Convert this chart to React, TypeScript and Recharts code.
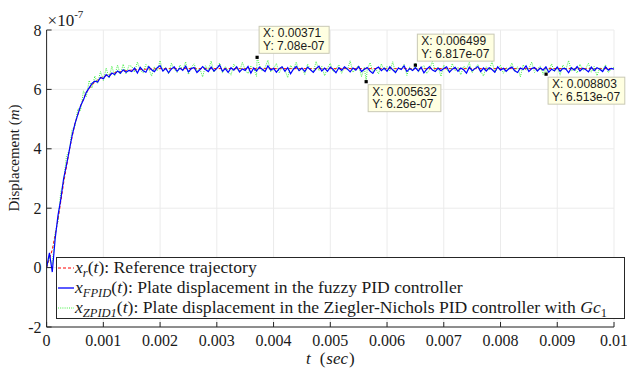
import React from 'react';
import { LineChart, Line, XAxis, YAxis, CartesianGrid, ReferenceDot } from 'recharts';

// sampling interval of the simulated signals (seconds)
const STEP = 0.00005;

// fuzzy PID response (x 1e-7 m), one value per STEP from t = 0 to 0.01
const blueValues = [
  0.0, 0.5, -0.15, 0.95, 1.75, 2.3, 3.0, 3.45, 3.95, 4.45,
  4.85, 5.15, 5.45, 5.65, 5.9, 6.05, 6.2, 6.28, 6.25, 6.4,
  6.36, 6.5, 6.42, 6.55, 6.5, 6.62, 6.55, 6.66, 6.58, 6.64,
  6.60, 6.72, 6.55, 6.74, 6.63, 6.58, 6.77, 6.66, 6.60, 6.73,
  6.80, 6.62, 6.71, 6.56, 6.69, 6.76, 6.61, 6.72, 6.64, 6.78,
  6.59, 6.70, 6.74, 6.57, 6.66, 6.77, 6.67, 6.60, 6.75, 6.62,
  6.71, 6.82, 6.61, 6.70, 6.57, 6.73, 6.65, 6.76, 6.59, 6.69,
  6.64, 6.77, 6.55, 6.72, 6.62, 6.75, 6.68, 6.60, 6.79, 6.65,
  6.71, 6.58, 6.70, 6.76, 6.61, 6.73, 6.53, 6.68, 6.77, 6.63,
  6.72, 6.60, 6.75, 6.66, 6.57, 6.70, 6.78, 6.62, 6.72, 6.61,
  6.75, 6.67, 6.56, 6.73, 6.64, 6.76, 6.69, 6.59, 6.72, 6.65,
  6.77, 6.60, 6.68, 6.74, 6.62, 6.54, 6.70, 6.75, 6.63, 6.72,
  6.61, 6.76, 6.66, 6.57, 6.72, 6.67, 6.79, 6.60, 6.70, 6.64,
  6.73, 6.62, 6.75, 6.56, 6.68, 6.77, 6.65, 6.60, 6.72, 6.63,
  6.70, 6.76, 6.58, 6.68, 6.74, 6.61, 6.72, 6.66, 6.55, 6.75,
  6.63, 6.70, 6.77, 6.60, 6.72, 6.62, 6.73, 6.67, 6.58, 6.76,
  6.65, 6.71, 6.61, 6.70, 6.75, 6.63, 6.57, 6.72, 6.67, 6.79,
  6.60, 6.70, 6.74, 6.62, 6.72, 6.65, 6.76, 6.58, 6.68, 6.63,
  6.75, 6.61, 6.71, 6.69, 6.56, 6.73, 6.65, 6.77, 6.62, 6.71,
  6.67, 6.59, 6.75, 6.63, 6.73, 6.68, 6.60, 6.76, 6.65, 6.71,
  6.68,
];

// Ziegler-Nichols PID response (x 1e-7 m), one value per STEP
const greenValues = [
  0.0, 0.35, 0.1, 1.15, 1.55, 2.55, 2.9, 3.75, 3.95, 4.65,
  4.75, 5.35, 5.3, 5.95, 5.75, 6.3, 6.05, 6.45, 6.2, 6.6,
  6.3, 6.72, 6.38, 6.78, 6.45, 6.82, 6.5, 6.85, 6.52, 6.8,
  6.78, 6.58, 6.92, 6.66, 6.55, 6.84, 6.70, 6.45, 6.76, 6.62,
  6.97, 6.60, 6.74, 6.52, 6.88, 6.68, 6.57, 6.82, 6.64, 6.93,
  6.50, 6.75, 6.86, 6.61, 6.70, 6.42, 6.80, 6.66, 6.95, 6.58,
  6.72, 6.89, 6.55, 6.77, 6.63, 6.48, 6.85, 6.69, 6.60, 6.91,
  6.66, 6.53, 6.79, 6.71, 6.44, 6.83, 6.62, 6.74, 6.98, 6.59,
  6.70, 6.87, 6.56, 6.76, 6.65, 6.40, 6.81, 6.68, 6.92, 6.61,
  6.73, 6.50, 6.85, 6.67, 6.58, 6.94, 6.63, 6.77, 6.46, 6.72,
  6.88, 6.60, 6.69, 6.83, 6.54, 6.75, 6.65, 6.96, 6.57, 6.71,
  6.80, 6.43, 6.74, 6.66, 6.90, 6.59, 6.70, 6.52, 6.86, 6.64,
  6.77, 6.61, 6.93, 6.55, 6.73, 6.68, 6.84, 6.47, 6.76, 6.62,
  6.89, 6.58, 6.71, 6.80, 6.53, 6.67, 6.95, 6.60, 6.75, 6.44,
  6.82, 6.66, 6.57, 6.87, 6.63, 6.74, 6.49, 6.79, 6.69, 6.91,
  6.56, 6.72, 6.84, 6.61, 6.45, 6.77, 6.65, 6.94, 6.58, 6.70,
  6.81, 6.54, 6.73, 6.67, 6.89, 6.60, 6.76, 6.42, 6.83, 6.64,
  6.71, 6.92, 6.57, 6.68, 6.79, 6.51, 6.74, 6.63, 6.86, 6.59,
  6.75, 6.48, 6.82, 6.66, 6.97, 6.61, 6.72, 6.55, 6.85, 6.64,
  6.70, 6.88, 6.58, 6.77, 6.46, 6.73, 6.65, 6.83, 6.56, 6.69,
  6.74,
];

// reference trajectory (x 1e-7 m)
const refTimes = [0, 0.0001, 0.0002, 0.0003, 0.0004, 0.0005, 0.0006, 0.0007, 0.0008, 0.0009, 0.001, 0.0012, 0.0014, 0.0016, 0.002, 0.003, 0.004, 0.005, 0.006, 0.007, 0.008, 0.009, 0.01];
const refValues = [0, 0.6, 1.6, 2.85, 3.95, 4.85, 5.45, 5.9, 6.15, 6.32, 6.43, 6.56, 6.63, 6.67, 6.7, 6.7, 6.7, 6.7, 6.7, 6.7, 6.7, 6.7, 6.7];

// data tips
const tipTimes = [0.00371, 0.005632, 0.006499, 0.008803];
const tipValues = [7.08, 6.26, 6.817, 6.513];
const tipXLabels = ['0.00371', '0.005632', '0.006499', '0.008803'];
const tipYLabels = ['7.08e-07', '6.26e-07', '6.817e-07', '6.513e-07'];
const tipAbove = [true, false, true, false];

// axes
const xTicks = [0, 0.001, 0.002, 0.003, 0.004, 0.005, 0.006, 0.007, 0.008, 0.009, 0.01];
const xTickLabels = ['0', '0.001', '0.002', '0.003', '0.004', '0.005', '0.006', '0.007', '0.008', '0.009', '0.01'];
const yTicks = [-2, 0, 2, 4, 6, 8];
const yTickLabels = ['-2', '0', '2', '4', '6', '8'];

const SERIF = "'Liberation Serif', 'Times New Roman', serif";
const SANS = "'Liberation Sans', Arial, sans-serif";
const AXIS = '#262626';
const TEXT = '#1a1a1a';
const X_MARGIN = 5;
const Y_MARGIN = 5;
const RED = '#ff0000';
const BLUE = '#0000ff';
const GREEN = '#3ded3d';

const blueData = blueValues.map((v, i) => ({ t: +(i * STEP).toFixed(6), v }));
const greenData = [
  ...greenValues.map((v, i) => ({ t: +(i * STEP).toFixed(6), v })),
  ...tipTimes.map((t, i) => ({ t, v: tipValues[i] })),
].sort((a, b) => a.t - b.t);
const refData = refTimes.map((t, i) => ({ t, v: refValues[i] }));

const charW: Record<string, number> = { '.': 0.278, ':': 0.278, ' ': 0.278, X: 0.667, Y: 0.667, e: 0.556, '-': 0.333 };
const textW = (s: string, size: number) => s.split('').reduce((a, c) => a + (charW[c] ?? 0.556), 0) * size;

const XTick = (props: any) => {
  const { x, y, payload } = props;
  const axisY = y - X_MARGIN;
  const label = xTickLabels[xTicks.indexOf(payload.value)] ?? String(payload.value);
  return (
    <g>
      <line x1={x} x2={x} y1={axisY} y2={axisY - 5} stroke={AXIS} strokeWidth={1} />
      <text x={x} y={axisY + 18.5} textAnchor="middle" fontFamily={SERIF} fontSize={16} fill={TEXT}>{label}</text>
    </g>
  );
};

const YTick = (props: any) => {
  const { x, y, payload } = props;
  const axisX = x + Y_MARGIN;
  const label = yTickLabels[yTicks.indexOf(payload.value)] ?? String(payload.value);
  return (
    <g>
      <line x1={axisX} x2={axisX + 5} y1={y} y2={y} stroke={AXIS} strokeWidth={1} />
      <text x={x} y={y + 5.5} textAnchor="end" fontFamily={SERIF} fontSize={16} fill={TEXT}>{label}</text>
    </g>
  );
};

const makeTip = (i: number) => (props: any) => {
  const { cx, cy } = props;
  const lines = [`X: ${tipXLabels[i]}`, `Y: ${tipYLabels[i]}`];
  const w = Math.max(...lines.map((s) => textW(s, 12))) + 8;
  const h = 27;
  const bx = cx + 2;
  const by = tipAbove[i] ? cy - 31 : cy + 3;
  return (
    <g>
      <rect x={bx} y={by} width={w} height={h} fill="#ffffe1" stroke="#c9c9b5" strokeWidth={1} />
      <text x={bx + 4} y={by + 11} fontFamily={SANS} fontSize={12} fill={TEXT}>{lines[0]}</text>
      <text x={bx + 4} y={by + 23.5} fontFamily={SANS} fontSize={12} fill={TEXT}>{lines[1]}</text>
      <rect x={cx - 1.6} y={cy - 1.6} width={3.2} height={3.2} fill="#000" />
    </g>
  );
};

const legendRows = [
  { sub: 'r', text: ': Reference trajectory', color: RED, dash: '3 2', width: 1, tail: false },
  { sub: 'FPID', text: ': Plate displacement in the fuzzy PID controller', color: BLUE, dash: undefined, width: 1.3, tail: false },
  { sub: 'ZPID1', text: ': Plate displacement in the Ziegler-Nichols PID controller with ', color: GREEN, dash: '1 1.2', width: 1, tail: true },
];

const LegendBox = () => (
  <div
    style={{
      position: 'absolute',
      left: 56,
      top: 257,
      boxSizing: 'border-box',
      width: 569,
      height: 62,
      border: `1px solid ${AXIS}`,
      background: '#fff',
      fontFamily: SERIF,
      fontSize: 17.6,
      color: TEXT,
    }}
  >
    {legendRows.map((r, i) => (
      <div key={i} style={{ height: 20, display: 'flex', alignItems: 'center', whiteSpace: 'nowrap' }}>
        <svg width={18} height={20} style={{ flex: 'none' }}>
          <line x1={1} x2={17} y1={10} y2={10} stroke={r.color} strokeWidth={r.width} strokeDasharray={r.dash} />
        </svg>
        <span style={{ lineHeight: '20px' }}>
          <i>x</i>
          <i style={{ fontSize: 12.5, position: 'relative', top: 4 }}>{r.sub}</i>(<i>t</i>){r.text}
          {r.tail ? (
            <>
              <i>Gc</i>
              <span style={{ fontSize: 12.5, position: 'relative', top: 4 }}>1</span>
            </>
          ) : null}
        </span>
      </div>
    ))}
  </div>
);

const YLabel = (props: any) => {
  const vb = props.viewBox || { x: 0, y: 0, width: 0, height: 0 };
  const tx = vb.x + 12;
  const ty = vb.y + 128;
  return (
    <g>
      <text x={tx} y={ty} transform={`rotate(-90 ${tx} ${ty})`} textAnchor="middle" fontFamily={SERIF} fontSize={15} fill={TEXT}>
        Displacement (<tspan fontStyle="italic">m</tspan>)
      </text>
      <text x={vb.x + vb.width + 1} y={vb.y - 4} fontFamily={SERIF} fontSize={17} fill={TEXT}>
        ×10<tspan fontSize={11} dy={-8}>-7</tspan>
      </text>
    </g>
  );
};

const XLabel = (props: any) => {
  const vb = props.viewBox || { x: 0, y: 0, width: 0, height: 0 };
  return (
    <text x={vb.x + vb.width / 2} y={vb.y + 37} textAnchor="middle" fontFamily={SERIF} fontSize={17} fill={TEXT}>
      <tspan fontStyle="italic">t</tspan>
      <tspan dx={9}>(</tspan>
      <tspan fontStyle="italic" dx={1}>sec</tspan>
      <tspan dx={1}>)</tspan>
    </text>
  );
};

export default function App() {
  return (
    <div style={{ position: 'absolute', left: 0, top: 0, width: 627, height: 368, background: '#fff' }}>
      <LineChart width={627} height={368} margin={{ top: 30, right: 13, bottom: 0, left: 6.6 }}>
        <CartesianGrid stroke="#ebebeb" strokeWidth={1} />
        <XAxis
          type="number"
          dataKey="t"
          domain={[0, 0.01]}
          ticks={xTicks}
          interval={0}
          height={41}
          tickSize={0}
          tickMargin={X_MARGIN}
          axisLine={{ stroke: AXIS, strokeWidth: 1 }}
          tickLine={false}
          tick={<XTick />}
          allowDataOverflow
          label={<XLabel />}
        />
        <YAxis
          type="number"
          domain={[-2, 8]}
          ticks={yTicks}
          interval={0}
          width={40}
          tickSize={0}
          tickMargin={Y_MARGIN}
          axisLine={{ stroke: AXIS, strokeWidth: 1 }}
          tickLine={false}
          tick={<YTick />}
          allowDataOverflow
          label={<YLabel />}
        />
        <Line data={refData} dataKey="v" type="linear" stroke={RED} strokeWidth={1} strokeDasharray="3 2" dot={false} isAnimationActive={false} />
        <Line data={greenData} dataKey="v" type="linear" stroke={GREEN} strokeWidth={1} strokeDasharray="1 1.2" dot={false} isAnimationActive={false} />
        <Line data={blueData} dataKey="v" type="linear" stroke={BLUE} strokeWidth={1.2} dot={false} isAnimationActive={false} />
        {tipTimes.map((t, i) => (
          <ReferenceDot key={i} x={t} y={tipValues[i]} r={2} ifOverflow="visible" shape={makeTip(i)} />
        ))}
      </LineChart>
      <LegendBox />
    </div>
  );
}
